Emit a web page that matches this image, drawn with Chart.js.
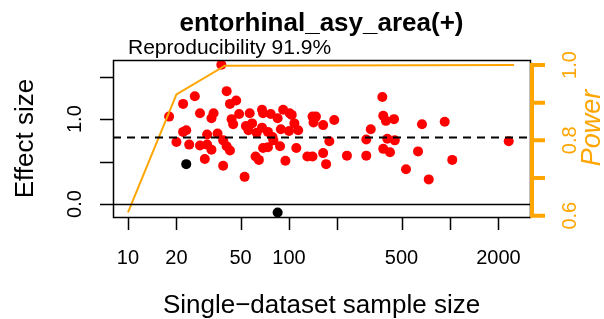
<!DOCTYPE html>
<html>
<head>
<meta charset="utf-8">
<script src="https://cdn.jsdelivr.net/npm/chart.js@4.4.1/dist/chart.umd.min.js"></script>
<style>
  body { margin: 0; background: #fff; }
  #wrap { width: 604px; height: 319px; }
</style>
</head>
<body>
<div id="wrap"><canvas id="plot" width="604" height="319"></canvas></div>
<script>
// replicated studies: sample size vs effect size
const sampleSize = [38, 18, 22, 26, 41, 28, 43, 47, 34, 33, 44, 45, 49, 57, 54, 56, 59, 68, 69, 77,
  85, 92, 101, 104, 108, 114, 140, 147, 142, 22, 23, 20, 24, 28, 31, 33, 31, 36, 39, 41,
  43, 30, 39, 53, 62, 65, 69, 74, 63, 68, 74, 79, 80, 88, 89, 100, 111, 95, 130, 140,
  163, 191, 178, 163, 170, 229, 302, 302, 322, 380, 385, 400, 449, 408, 454, 385, 424, 533, 633, 670,
  738, 927, 1033, 2316];
const effectSize = [1.64, 1.03, 1.18, 1.27, 1.33, 1.07, 1.18, 1.22, 1.07, 1.01, 1.00, 0.94, 1.06, 1.07, 0.92, 0.87, 0.95, 1.11, 1.07, 1.06,
  1.01, 1.11, 1.07, 1.05, 0.95, 0.87, 1.03, 1.03, 0.96, 0.85, 0.87, 0.73, 0.70, 0.69, 0.70, 0.64, 0.82, 0.83, 0.75, 0.68,
  0.63, 0.53, 0.45, 0.32, 0.56, 0.52, 0.66, 0.67, 0.84, 0.90, 0.85, 0.79, 0.75, 0.68, 0.88, 0.86, 0.66, 0.51, 0.56, 0.56,
  0.93, 0.99, 0.74, 0.60, 0.47, 0.57, 0.57, 0.76, 0.88, 1.26, 1.04, 0.98, 1.00, 0.77, 0.75, 0.65, 0.61, 0.41, 0.62, 0.94,
  0.29, 0.97, 0.52, 0.74];
// not reproduced
const otherSize = [23, 85];
const otherEffect = [0.47, -0.10];
// power curve
const powerSize = [10, 20, 40, 2500];
const powerValue = [0.609, 0.922, 0.998, 1.0];
const meanEffect = 0.79;

const xTicks = [10, 20, 50, 100, 200, 500, 1000, 2000];
const xTickLabels = ['10', '20', '50', '100', '', '500', '', '2000'];
const yTicks = [0, 0.5, 1, 1.5];
const yTickLabels = ['0.0', '', '1.0', ''];
const powerTicks = [0.6, 0.7, 0.8, 0.9, 1.0];
const powerTickLabels = ['0.6', '', '0.8', '', '1.0'];

const ORANGE = '#FFA500';
const FONT = '"Liberation Sans", Arial, sans-serif';

function toPoints(xs, ys) {
  return xs.map((x, i) => ({ x: x, y: ys[i] }));
}

function vText(ctx, text, x, y) {
  ctx.save();
  ctx.translate(x, y);
  ctx.rotate(-Math.PI / 2);
  ctx.fillText(text, 0, 0);
  ctx.restore();
}

const rPlot = {
  id: 'rPlot',
  afterDatasetsDraw(chart) {
    const { ctx, chartArea: a, scales } = chart;
    ctx.save();
    ctx.strokeStyle = '#000';
    // zero line
    let y0 = Math.round(scales.y.getPixelForValue(0)) + 0.5;
    ctx.lineWidth = 1.5;
    ctx.beginPath(); ctx.moveTo(a.left, y0); ctx.lineTo(a.right, y0); ctx.stroke();
    // mean effect, dashed
    let ym = Math.round(scales.y.getPixelForValue(meanEffect)) + 0.5;
    ctx.lineWidth = 2;
    ctx.setLineDash([8, 6]);
    ctx.beginPath(); ctx.moveTo(a.left, ym); ctx.lineTo(a.right, ym); ctx.stroke();
    ctx.restore();
  },
  afterDraw(chart) {
    const { ctx, chartArea: a, scales } = chart;
    ctx.save();
    ctx.strokeStyle = '#000';
    ctx.fillStyle = '#000';
    ctx.lineWidth = 1.5;
    ctx.strokeRect(a.left + 0.5, a.top + 0.5, a.right - a.left, a.bottom - a.top);

    // bottom axis
    ctx.beginPath();
    xTicks.forEach(v => {
      const px = Math.round(scales.x.getPixelForValue(v)) + 0.5;
      ctx.moveTo(px, a.bottom); ctx.lineTo(px, a.bottom + 13);
    });
    ctx.stroke();
    ctx.font = '20px ' + FONT;
    ctx.textAlign = 'center';
    ctx.textBaseline = 'alphabetic';
    xTicks.forEach((v, i) => {
      if (xTickLabels[i]) ctx.fillText(xTickLabels[i], scales.x.getPixelForValue(v), 264);
    });

    // left axis
    ctx.beginPath();
    yTicks.forEach(v => {
      const py = Math.round(scales.y.getPixelForValue(v)) + 0.5;
      ctx.moveTo(a.left, py); ctx.lineTo(a.left - 13, py);
    });
    ctx.stroke();
    yTicks.forEach((v, i) => {
      if (yTickLabels[i]) vText(ctx, yTickLabels[i], 81, scales.y.getPixelForValue(v));
    });

    // right axis (power)
    ctx.strokeStyle = ORANGE;
    ctx.fillStyle = ORANGE;
    ctx.lineWidth = 4;
    const rx = a.right + 2;
    const pTop = scales.y2.getPixelForValue(1.0);
    const pBot = scales.y2.getPixelForValue(0.6);
    ctx.beginPath();
    ctx.moveTo(rx, pTop); ctx.lineTo(rx, pBot);
    powerTicks.forEach(v => {
      const py = scales.y2.getPixelForValue(v);
      ctx.moveTo(rx - 2, py); ctx.lineTo(rx + 13, py);
    });
    ctx.stroke();
    powerTicks.forEach((v, i) => {
      if (powerTickLabels[i]) vText(ctx, powerTickLabels[i], 576, scales.y2.getPixelForValue(v));
    });
    ctx.font = 'italic 27px ' + FONT;
    vText(ctx, 'Power', 600, 128);

    // titles
    ctx.fillStyle = '#000';
    ctx.font = 'bold 26px ' + FONT;
    ctx.fillText('entorhinal_asy_area(+)', (a.left + a.right) / 2, 31);
    ctx.font = '26px ' + FONT;
    ctx.fillText('Single\u2212dataset sample size', (a.left + a.right) / 2, 313);
    vText(ctx, 'Effect size', 33, (a.top + a.bottom) / 2);
    ctx.font = '21px ' + FONT;
    ctx.textAlign = 'left';
    ctx.fillText('Reproducibility 91.9%', 128, 54);
    ctx.restore();
  }
};

new Chart(document.getElementById('plot'), {
  type: 'scatter',
  data: {
    datasets: [
      {
        label: 'power',
        data: toPoints(powerSize, powerValue),
        yAxisID: 'y2',
        showLine: true,
        borderColor: ORANGE,
        borderWidth: 2,
        pointRadius: 0,
        order: 0
      },
      {
        label: 'reproduced',
        data: toPoints(sampleSize, effectSize),
        backgroundColor: '#FF0000',
        borderWidth: 0,
        pointRadius: 5,
        order: 1
      },
      {
        label: 'not reproduced',
        data: toPoints(otherSize, otherEffect),
        backgroundColor: '#000',
        borderWidth: 0,
        pointRadius: 5,
        order: 1
      }
    ]
  },
  options: {
    responsive: false,
    animation: false,
    events: [],
    layout: {
      padding: { left: 113, right: 74, top: 60, bottom: 102 }
    },
    plugins: {
      legend: { display: false },
      tooltip: { enabled: false }
    },
    scales: {
      x: { type: 'logarithmic', min: 8.07, max: 3140, display: false },
      y: { type: 'linear', min: -0.153, max: 1.697, display: false },
      y2: { type: 'linear', min: 0.5965, max: 1.0133, display: false, position: 'right' }
    }
  },
  plugins: [rPlot]
});
</script>
</body>
</html>
